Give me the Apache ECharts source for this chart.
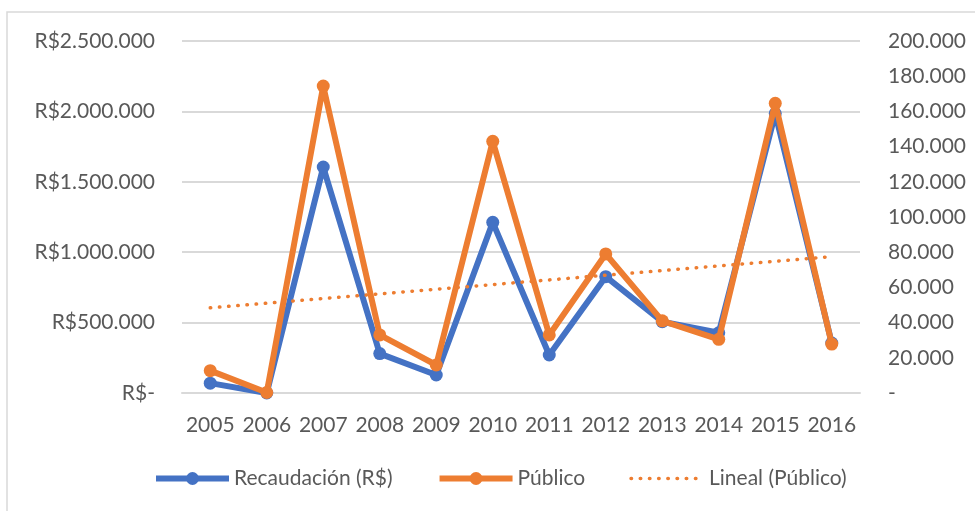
<!DOCTYPE html>
<html>
<head>
<meta charset="utf-8">
<script src="https://cdn.jsdelivr.net/npm/echarts@6/dist/echarts.min.js"></script>
<style>
  html, body { margin: 0; padding: 0; background: #fff; }
  #main { width: 975px; height: 511px; }
</style>
</head>
<body>
<div id="main"></div>
<script>
// años y valores
var years = ['2005', '2006', '2007', '2008', '2009', '2010', '2011', '2012', '2013', '2014', '2015', '2016'];
var recaudacion = [70000, 0, 1605000, 280000, 128000, 1212000, 270000, 826000, 506000, 428000, 1985000, 355000];
var publico = [12700, 300, 174400, 33000, 15900, 143000, 33000, 79000, 41000, 30500, 164600, 27800];

// tendencia lineal (mínimos cuadrados) sobre Público, como hace Excel
function linearTrend(vals) {
  var n = vals.length, sx = 0, sy = 0, sxy = 0, sxx = 0;
  for (var i = 0; i < n; i++) {
    sx += i; sy += vals[i]; sxy += i * vals[i]; sxx += i * i;
  }
  var b = (n * sxy - sx * sy) / (n * sxx - sx * sx);
  var a = (sy - b * sx) / n;
  return vals.map(function (v, i) { return a + b * i; });
}
var tendencia = linearTrend(publico);

function miles(v) {
  return String(Math.round(v)).replace(/\B(?=(\d{3})+(?!\d))/g, '.');
}

var txt = '#595959';
var font = 'Lato, "Open Sans", sans-serif';
var azul = '#4472C4';
var naranja = '#ED7D31';

var myChart = echarts.init(document.getElementById('main'));
myChart.setOption({
  animation: false,
  textStyle: { fontFamily: font },
  graphic: [{
    type: 'rect',
    shape: { x: 7, y: 12, width: 980, height: 520 },
    style: { fill: 'none', stroke: '#d9d9d9', lineWidth: 1.5 },
    silent: true
  }],
  grid: { left: 182, right: 115, top: 41, bottom: 118 },
  legend: {
    top: 463,
    left: 148,
    itemWidth: 73,
    itemHeight: 16,
    itemGap: 44,
    textStyle: { color: txt, fontSize: 21, fontFamily: font },
    data: [
      { name: 'Recaudación (R$)', lineStyle: { width: 6 } },
      { name: 'Público', lineStyle: { width: 6 } },
      { name: 'Lineal (Público)', itemStyle: { opacity: 0 }, lineStyle: { width: 3.5, type: [0.5, 8.7], cap: 'round' } }
    ]
  },
  xAxis: {
    type: 'category',
    data: years,
    boundaryGap: true,
    axisLine: { lineStyle: { color: '#d9d9d9', width: 2 } },
    axisTick: { show: false },
    axisLabel: { color: txt, fontSize: 21, margin: 22, interval: 0 }
  },
  yAxis: [{
    type: 'value',
    min: 0, max: 2500000, interval: 500000,
    axisLine: { show: false },
    axisTick: { show: false },
    splitLine: { lineStyle: { color: '#d9d9d9', width: 2 } },
    axisLabel: {
      color: txt, fontSize: 21, margin: 27,
      formatter: function (v) { return v === 0 ? 'R$-' : 'R$' + miles(v); }
    }
  }, {
    type: 'value',
    min: 0, max: 200000, interval: 20000,
    axisLine: { show: false },
    axisTick: { show: false },
    splitLine: { show: false },
    axisLabel: {
      color: txt, fontSize: 21, margin: 28,
      formatter: function (v) { return v === 0 ? '-' : miles(v); }
    }
  }],
  series: [{
    name: 'Recaudación (R$)',
    type: 'line',
    yAxisIndex: 0,
    data: recaudacion,
    symbol: 'circle',
    symbolSize: 13,
    color: azul,
    lineStyle: { width: 6, color: azul },
    itemStyle: { color: azul },
    z: 2
  }, {
    name: 'Público',
    type: 'line',
    yAxisIndex: 1,
    data: publico,
    symbol: 'circle',
    symbolSize: 13,
    color: naranja,
    lineStyle: { width: 6, color: naranja },
    itemStyle: { color: naranja },
    z: 3
  }, {
    name: 'Lineal (Público)',
    type: 'line',
    yAxisIndex: 1,
    data: tendencia,
    symbol: 'none',
    color: naranja,
    lineStyle: { width: 3.5, type: [0.5, 8.7], cap: 'round', color: naranja },
    z: 4
  }]
});
</script>
</body>
</html>
